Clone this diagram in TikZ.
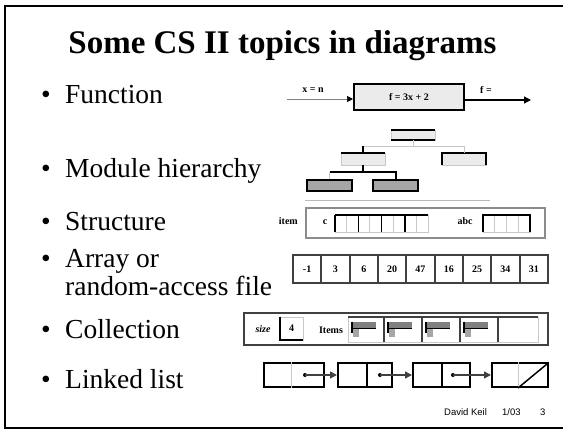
\documentclass[tikz,border=0pt]{standalone}
\usepackage{fontspec}
\setmainfont{Liberation Serif}
\setsansfont{Liberation Sans}
\usetikzlibrary{arrows.meta}
\definecolor{lgray}{HTML}{EBEBEB}
\definecolor{mgray}{HTML}{A6A6A6}
\definecolor{dgray}{HTML}{404040}
\definecolor{fgray}{HTML}{C8C8C8}
\tikzset{
  bulletitem/.style={anchor=base west, inner sep=0, font=\fontsize{27.5}{30}\selectfont},
  tinytxt/.style={font=\fontsize{10}{11}\bfseries\selectfont, inner sep=0},
  thickline/.style={line width=2pt, black},
  conn/.style={line width=0.8pt, fgray},
  darkline/.style={line width=1.5pt, dgray},
  listbox/.style={draw, line width=2pt, minimum height=24pt, inner sep=0},
  ptr/.style={line width=1.5pt, dgray, -{Triangle[length=7pt,width=7pt]}},
}
\begin{document}
\begin{tikzpicture}[x=1pt,y=-1pt]
\useasboundingbox (0,0) rectangle (563,431);
% frame
\draw[line width=2pt] (563,6) -- (5,6) -- (5,428) -- (563,428);
% title
\node[anchor=base, inner sep=0, font=\fontsize{33}{36}\bfseries\selectfont] (title) at (282.5,53) {Some CS II topics in diagrams};
% bullets
\foreach \yy/\nm in {103/b1,177/b2,230/b3,267/b4,338/b5,388/b6}
  \node[bulletitem] (\nm) at (41,\yy) {•};
\node[bulletitem] (t1) at (65,103) {Function};
\node[bulletitem] (t2) at (65,177) {Module hierarchy};
\node[bulletitem] (t3) at (65,230) {Structure};
\node[bulletitem] (t4) at (65,267) {Array or};
\node[bulletitem] (t4b) at (65,295) {random-access file};
\node[bulletitem] (t5) at (65,338) {Collection};
\node[bulletitem] (t6) at (65,388) {Linked list};

% ---------- Function
\node[draw, line width=2pt, fill=lgray, minimum width=110pt, minimum height=26pt, inner sep=0, tinytxt] (fn) at (409,97) {f = 3x + 2};
\coordinate (fin) at (287,99);
\coordinate (fout) at (531,100);
\draw[line width=0.7pt, gray, -{Triangle[length=6pt,width=6pt,color=black]}] (fin) -- (fin -| fn.west);
\draw[line width=1.3pt, -{Triangle[length=7pt,width=7pt]}] (fn.east |- fout) -- (fout);
\node[tinytxt] (fxl) at (313,90) {x = n};
\node[tinytxt] (ffl) at (486,90) {f =};

% ---------- Module hierarchy
\node[draw=fgray, line width=0.8pt, fill=lgray, minimum width=44pt, minimum height=10pt, inner sep=0] (m0) at (413,135) {};
\node[draw=fgray, line width=0.8pt, fill=lgray, minimum width=44pt, minimum height=12pt, inner sep=0] (m1) at (363,159) {};
\node[draw=fgray, line width=0.8pt, fill=lgray, minimum width=44pt, minimum height=12pt, inner sep=0] (m2) at (464,159) {};
\node[draw, line width=2pt, fill=mgray, minimum width=45pt, minimum height=11pt, inner sep=0] (m3) at (329.5,185.5) {};
\node[draw, line width=2pt, fill=mgray, minimum width=45pt, minimum height=11pt, inner sep=0] (m4) at (395.5,185.5) {};
\draw[thickline] (m0.north west) -- (m0.north east);
\draw[thickline] (m0.south west) -- (m0.south east);
\draw[thickline] (m1.north west) -- (m1.north east);
\draw[thickline] (m2.south west) -- (m2.north west) -- (m2.north east) -- (m2.south east);
\coordinate (j0) at (413,146);
\draw[conn] (m0.south) -- (j0);
\draw[conn] (j0) -| (m2.north);
\draw[conn] (j0) -| (m1.north);
\draw[thickline] (j0 -| m1.north) -- (m1.north);
\coordinate (j1) at (363,172);
\draw[thickline] (m1.south) -- (j1) -| (m4.north);
\draw[thickline] (j1) -- (j1 -| m3.north);
\draw[conn] (j1 -| m3.north) -- (m3.north);
\draw[line width=0.8pt, gray!55] (305,200) -- (490,200);

% ---------- Structure
\node[draw=gray!90, line width=2pt, minimum width=239pt, minimum height=30pt, inner sep=0] (st) at (425.5,223) {};
\node[tinytxt, anchor=east] (stl) at (298,221) {item};
\node[tinytxt] (stc) at (325,222) {c};
\foreach \i in {0,...,7} \draw[conn] (335+\i*11.625,215) rectangle ++(11.625,17);
\draw[line width=1.5pt] (335,215) -- (428,215);
\foreach \i in {0,2,4,6} \draw[line width=1.5pt] (335+\i*11.625,215) -- ++(0,17);
\node[tinytxt] (sta) at (465,221) {abc};
\foreach \i in {0,...,3} \draw[conn] (483+\i*11.75,215) rectangle ++(11.75,17);
\draw[line width=1.5pt] (483,232) -- (483,215) -- (530,215) -- (530,232);

% ---------- Array
\foreach \v [count=\i] in {-1,3,6,20,47,16,25,34,31}
  \node[draw=dgray, line width=2pt, minimum width=28.33pt, minimum height=28pt, inner sep=0, tinytxt] (a\i) at (293+\i*28.33-14.17,269) {\v};

% ---------- Collection
\node[draw=dgray, line width=2pt, minimum width=304pt, minimum height=32pt, inner sep=0] (co) at (396,329) {};
\node[tinytxt, font=\fontsize{10}{11}\bfseries\itshape\selectfont] (csz) at (263,329) {size};
\node[draw=fgray, line width=0.8pt, minimum width=23pt, minimum height=23pt, inner sep=0, tinytxt] (szb) at (291.5,328.5) {4};
\draw[thickline] (szb.north west) -- (szb.south west) -- (szb.south east);
\node[tinytxt] (cit) at (331,330) {Items};
\draw[conn] (348,317) rectangle (538,342);
\draw[darkline] (348,317) -- (538,317);
\foreach \x in {384,422,460,498} \draw[darkline] (\x,317) -- (\x,342);
\foreach \x in {348,384,422,460} {
  \fill[gray] (\x+5,322) rectangle (\x+28,328);
  \fill[mgray] (\x+5,329) rectangle (\x+11,337);
  \draw[line width=1.2pt] (\x+5,328.5) -- (\x+28,328.5);
  \draw[line width=1.5pt] (\x+4,321.5) -- (\x+4,333);
}

% ---------- Linked list
\node[listbox, minimum width=60pt] (L1) at (294,375) {};
\node[listbox, minimum width=54pt] (L2) at (365,375) {};
\node[listbox, minimum width=57pt] (L3) at (441.5,375) {};
\node[listbox, minimum width=56pt] (L4) at (520,375) {};
\draw[conn] ([xshift=28pt]L1.north west) -- ([xshift=28pt]L1.south west);
\draw[thickline] ([xshift=30pt]L2.north west) -- ([xshift=30pt]L2.south west);
\draw[thickline] ([xshift=30pt]L3.north west) -- ([xshift=30pt]L3.south west);
\draw[conn] ([xshift=27pt]L4.north west) -- ([xshift=27pt]L4.south west);
\coordinate (d1) at (305,375);
\coordinate (d2) at (380,375);
\coordinate (d3) at (453,375);
\foreach \d in {d1,d2,d3} \fill (\d) circle (2pt);
\draw[ptr] (d1) -- (L2.west);
\draw[ptr] (d2) -- (L3.west);
\draw[ptr] (d3) -- (L4.west);
\draw[line width=1.5pt] ([xshift=27pt]L4.south west) -- ([xshift=-2pt,yshift=-2pt]L4.north east);

% ---------- footer
\node[anchor=base west, inner sep=0, font=\sffamily\fontsize{9.5}{10}\selectfont] (f1) at (444,415) {David Keil};
\node[anchor=base west, inner sep=0, font=\sffamily\fontsize{9.5}{10}\selectfont] (f2) at (502,415) {1/03};
\node[anchor=base west, inner sep=0, font=\sffamily\fontsize{9.5}{10}\selectfont] (f3) at (540,415) {3};
\end{tikzpicture}
\end{document}
